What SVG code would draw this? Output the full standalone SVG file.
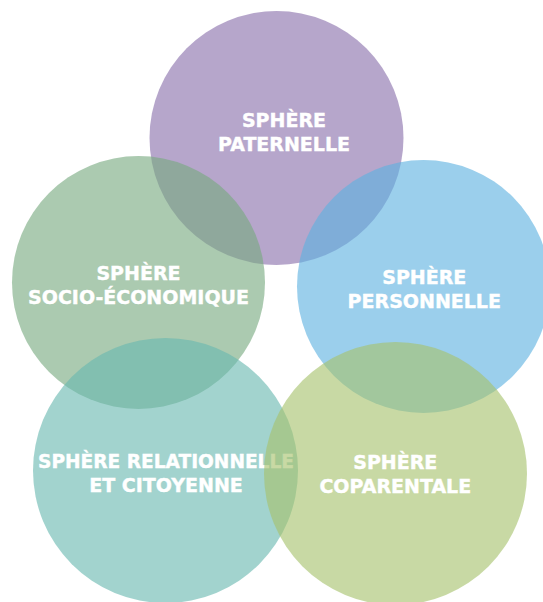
<svg xmlns="http://www.w3.org/2000/svg" width="543" height="602" viewBox="0 0 543 602">
<style>
.c{opacity:0.62}
.t{font-family:"DejaVu Sans",sans-serif;font-weight:bold;font-size:19px;fill:#fff;stroke:#fff;stroke-width:0.4px;text-anchor:middle}
</style>
<rect width="543" height="602" fill="#fff"/>
<g id="paternelle">
<circle class="c" cx="276.5" cy="138" r="127" fill="#896FAB"/>
<text class="t" x="284" y="127">SPHÈRE</text>
<text class="t" x="284" y="151">PATERNELLE</text>
</g>
<g id="socio">
<circle class="c" cx="138.5" cy="282.5" r="126.5" fill="#78A980"/>
<text class="t" x="138.5" y="280">SPHÈRE</text>
<text class="t" x="138.5" y="304">SOCIO-ÉCONOMIQUE</text>
</g>
<g id="personnelle">
<circle class="c" cx="423.5" cy="286.5" r="126.5" fill="#5EB2E0"/>
<text class="t" x="424.3" y="284">SPHÈRE</text>
<text class="t" x="424.3" y="307.5">PERSONNELLE</text>
</g>
<g id="relationnelle">
<circle class="c" cx="165.5" cy="470.5" r="132.5" fill="#69B8B0"/>
<text class="t" x="166" y="468" textLength="256" lengthAdjust="spacingAndGlyphs">SPHÈRE RELATIONNELLE</text>
<text class="t" x="166" y="491.7">ET CITOYENNE</text>
</g>
<g id="coparentale">
<circle class="c" cx="395.5" cy="473.5" r="131.5" fill="#A6C26C"/>
<text class="t" x="395.3" y="469.3">SPHÈRE</text>
<text class="t" x="395.3" y="493.3">COPARENTALE</text>
</g>
<g id="connectors"/>
</svg>
